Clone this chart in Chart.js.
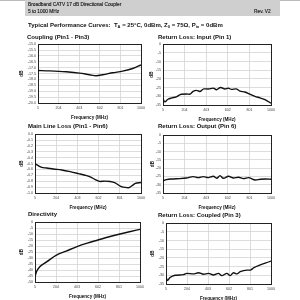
<!DOCTYPE html>
<html><head><meta charset="utf-8">
<script src="https://cdn.jsdelivr.net/npm/chart.js@4.4.0/dist/chart.umd.min.js"></script>
<style>
html,body{margin:0;padding:0;background:#fff;width:300px;height:300px;overflow:hidden;font-family:"Liberation Sans",Arial,sans-serif;}
.abs{position:absolute;white-space:nowrap;will-change:transform;-webkit-font-smoothing:antialiased;}
#band{left:25px;top:0;width:255px;height:16px;background:#cfcfcf;}
.hd{font-size:4.8px;color:#222;font-weight:normal;line-height:1;-webkit-text-stroke:0.15px #222}
.ttl{font-size:6px;font-weight:bold;color:#111;line-height:1}
.sub{font-size:4px;vertical-align:-1px}
canvas{position:absolute;}
</style></head><body>
<div class="abs" style="left:0;top:0;width:300px;height:1px;background:#bbb"></div>
<div class="abs" id="band"></div>
<div class="abs hd" style="left:28px;top:3px">Broadband CATV 17 dB Directional Coupler</div>
<div class="abs hd" style="left:28px;top:9.5px">5 to 1000 MHz</div>
<div class="abs hd" style="left:254px;top:9.5px">Rev. V2</div>
<div class="abs ttl" style="left:28px;top:22px">Typical Performance Curves:&nbsp; T<span class="sub">A</span> = 25°C, 0dBm, Z<span class="sub">0</span> = 75Ω, P<span class="sub">in</span> = 0dBm</div>
<div class="abs ttl" style="left:27px;top:34px">Coupling (Pin1 - Pin3)</div>
<div class="abs ttl" style="left:158px;top:34px">Return Loss: Input (Pin 1)</div>
<div class="abs ttl" style="left:28px;top:123px">Main Line Loss (Pin1 - Pin6)</div>
<div class="abs ttl" style="left:158px;top:123px">Return Loss: Output (Pin 6)</div>
<div class="abs ttl" style="left:28px;top:211px">Directivity</div>
<div class="abs ttl" style="left:158px;top:212px">Return Loss: Coupled (Pin 3)</div>
<canvas id="c1"></canvas><canvas id="c2"></canvas><canvas id="c3"></canvas>
<canvas id="c4"></canvas><canvas id="c5"></canvas><canvas id="c6"></canvas>
<script>
// ---- data ----
const xTicks = [5, 204, 403, 602, 801, 1000];

const couplingFreq = [5, 117, 278, 406, 503, 567, 631, 727, 823, 920, 1000];
const couplingDb   = [-17.24, -17.27, -17.35, -17.46, -17.6, -17.68, -17.6, -17.43, -17.29, -17.07, -16.77];

const rlInputFreq = [5, 20, 51, 82, 128, 174, 221, 251, 282, 313, 344, 381, 421, 467, 498, 535, 575, 606, 636, 677, 714, 760, 806, 852, 898, 945, 1000];
const rlInputDb   = [-31.3, -33.2, -31.7, -31, -30.3, -28.8, -28.7, -28.8, -27.2, -26.6, -27.2, -25.7, -25.8, -25.3, -26.2, -24.9, -25.8, -25.3, -26.0, -25.7, -27, -27.5, -28.8, -30, -30.9, -31.9, -34];

const mainLineFreq = [5, 36, 68, 115, 178, 256, 335, 413, 476, 523, 570, 617, 664, 711, 758, 805, 852, 884, 915, 947, 1000];
const mainLineDb   = [-0.503, -0.536, -0.564, -0.575, -0.592, -0.609, -0.637, -0.67, -0.698, -0.726, -0.771, -0.804, -0.799, -0.804, -0.827, -0.883, -0.905, -0.91, -0.877, -0.838, -0.821];

const rlOutputFreq = [5, 36, 98, 160, 221, 283, 329, 376, 422, 469, 500, 530, 561, 608, 654, 700, 747, 793, 855, 901, 947, 1000];
const rlOutputDb   = [-27.7, -26.9, -26.5, -26.3, -25.9, -25.1, -25.7, -25.1, -25.7, -24.9, -26.1, -24.5, -26.1, -24.9, -25.9, -25.5, -26.3, -25.7, -27.1, -26.7, -26.5, -26.7];

const directivityFreq = [5, 20, 50, 115, 204, 300, 403, 500, 602, 700, 801, 900, 1000];
const directivityDb   = [-45.4, -41.3, -37.2, -33.2, -27.7, -24.2, -20.4, -17.5, -14.9, -12.4, -10.1, -8.0, -6.0];

const rlCoupledFreq = [5, 18, 43, 91, 170, 201, 265, 312, 360, 407, 455, 502, 534, 582, 613, 645, 677, 708, 772, 804, 835, 1000];
const rlCoupledDb   = [-30.7, -33, -31.3, -30, -29.6, -28.9, -29.2, -28.5, -29.4, -28.9, -29.8, -28.9, -30.2, -28.9, -30.2, -28.5, -29.2, -27.9, -27, -27, -25.7, -21.8];

// y-axis tick ranges
const couplingTicks = {min: -20, max: -15, step: 0.5, dec: 1};
const rlTicks       = {min: -35, max: 0, step: 5, dec: 0};
const mainLineTicks = {min: -1, max: 0, step: 0.1, dec: 1};
const dirTicks      = {min: -50, max: 0, step: 5, dec: 0};

// ---- layout ----
const panels = [
  {id:'c1', plot:[38, 43, 141, 103], dbx:22, fx:couplingFreq, fy:couplingDb, t:couplingTicks},
  {id:'c2', plot:[163, 43, 271, 105], dbx:152, fx:rlInputFreq, fy:rlInputDb, t:rlTicks},
  {id:'c3', plot:[35, 133, 141, 193], dbx:22, fx:mainLineFreq, fy:mainLineDb, t:mainLineTicks},
  {id:'c4', plot:[163, 134, 271, 193], dbx:153, fx:rlOutputFreq, fy:rlOutputDb, t:rlTicks},
  {id:'c5', plot:[35, 221, 140, 282], dbx:22, fx:directivityFreq, fy:directivityDb, t:dirTicks},
  {id:'c6', plot:[166, 222, 271, 284], dbx:153, fx:rlCoupledFreq, fy:rlCoupledDb, t:rlTicks},
];

const framePlugin = {
  id: 'frame',
  beforeDatasetsDraw(c) {
    const a = c.chartArea, x = c.ctx;
    x.save(); x.strokeStyle = '#222'; x.lineWidth = 1;
    x.strokeRect(Math.round(a.left) + 0.5, Math.round(a.top) + 0.5, Math.round(a.right - a.left), Math.round(a.bottom - a.top));
    x.restore();
  }
};

const XH = 17, PT = 3, PR = 7;
panels.forEach(p => {
  const [l, t, r, b] = p.plot;
  const cl = Math.round(p.dbx - 3), ct = t - PT;
  const cw = r + PR - cl, ch = PT + (b - t) + XH;
  const cv = document.getElementById(p.id);
  cv.style.left = cl + 'px'; cv.style.top = ct + 'px';
  cv.width = cw; cv.height = ch;
  cv.style.width = cw + 'px'; cv.style.height = ch + 'px';
  const yW = l - cl;
  new Chart(cv, {
    type: 'line',
    data: {datasets: [{
      data: p.fx.map((f, i) => ({x: f, y: p.fy[i]})),
      borderColor: '#111', borderWidth: 1.4, pointRadius: 0,
      cubicInterpolationMode: 'monotone', fill: false
    }]},
    options: {
      responsive: false, animation: false, devicePixelRatio: 1,
      layout: {padding: {top: PT, right: PR, left: 0, bottom: 0}},
      plugins: {legend: {display: false}, tooltip: {enabled: false}},
      scales: {
        x: {
          type: 'linear', min: 5, max: 1000,
          afterBuildTicks: s => { s.ticks = xTicks.map(v => ({value: v})); },
          afterFit: s => { s.height = XH; },
          grid: {color: '#d4d4d4', lineWidth: 0.8, drawTicks: false},
          border: {display: false},
          ticks: {autoSkip: false, maxRotation: 0, padding: 2.5, color: '#444',
                  font: {size: 3.6, family: 'Liberation Sans'}, callback: v => String(v)},
          title: {display: true, text: 'Frequency (MHz)', color: '#111', padding: 0,
                  font: {size: 4.6, weight: 'bold', family: 'Liberation Sans'}}
        },
        y: {
          min: p.t.min, max: p.t.max,
          ticks: {stepSize: p.t.step, autoSkip: false, padding: 2, color: '#444',
                  font: {size: 3.6, family: 'Liberation Sans'},
                  callback: v => { const s = Number(v).toFixed(p.t.dec); return (parseFloat(s) === 0) ? Number(0).toFixed(p.t.dec) : s; }},
          afterFit: s => { s.width = yW; },
          grid: {color: '#d4d4d4', lineWidth: 0.8, drawTicks: false},
          border: {display: false},
          title: {display: true, text: 'dB', color: '#111', padding: 0,
                  font: {size: 4.6, weight: 'bold', family: 'Liberation Sans'}}
        }
      }
    },
    plugins: [framePlugin]
  });
});
</script>
</body></html>
